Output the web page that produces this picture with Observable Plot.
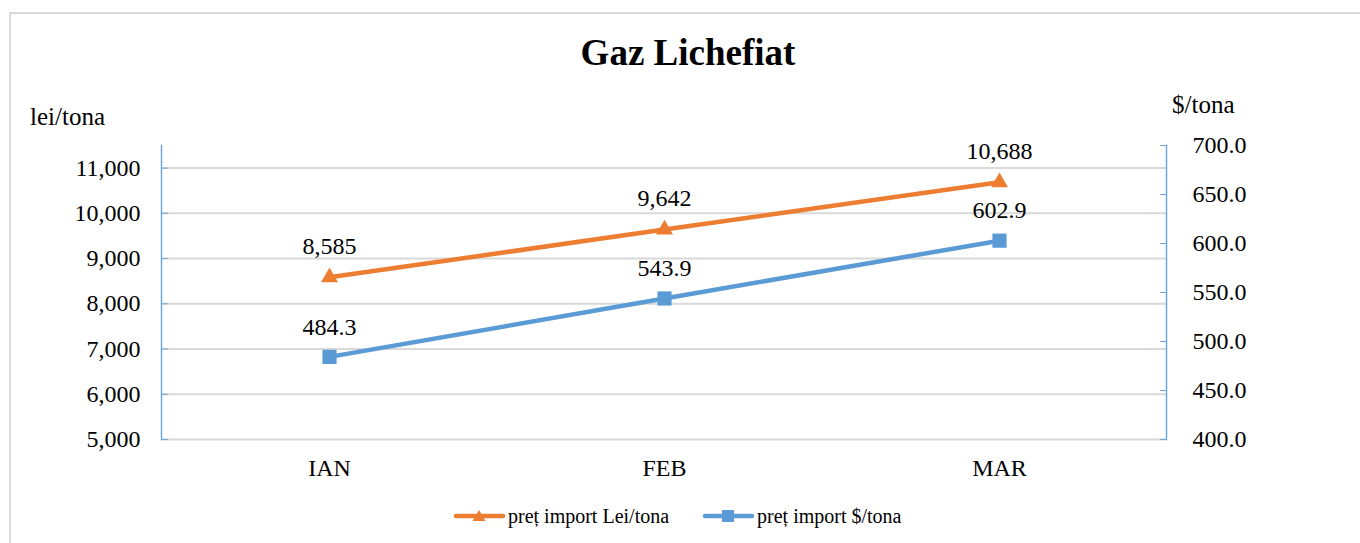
<!DOCTYPE html>
<html><head><meta charset="utf-8">
<script src="https://cdn.jsdelivr.net/npm/d3@7"></script>
<script src="https://cdn.jsdelivr.net/npm/@observablehq/plot@0.6"></script>
<style>
body{margin:0;background:#fff;font-family:"Liberation Serif","Times New Roman",serif;color:#000;}
#wrap{position:relative;width:1360px;height:543px;overflow:hidden;}
#border{position:absolute;left:9px;top:12px;width:1400px;height:600px;border:2px solid #d9d9d9;}
#chart{position:absolute;left:0;top:0;}
#chart svg, #chart svg text{font-family:"Liberation Serif","Times New Roman",serif !important;}
.lbl{position:absolute;line-height:1;white-space:nowrap;}
#title{left:0;width:1376px;top:34px;text-align:center;font-weight:bold;font-size:37px;}
#lleft{left:30px;top:104px;font-size:25px;}
#lright{left:1172px;top:92px;font-size:25px;}
#legend{position:absolute;top:506px;left:453px;font-size:20px;display:flex;align-items:center;line-height:1;}
.item{display:flex;align-items:center;margin-right:33px;}
.item svg{margin-right:2px;}
</style>
</head><body>
<div id="wrap">
  <div id="border"></div>
  <div id="chart"></div>
  <div class="lbl" id="title">Gaz Lichefiat</div>
  <div class="lbl" id="lleft">lei/tona</div>
  <div class="lbl" id="lright">$/tona</div>
  <div id="legend"></div>
</div>
<script>
const months = ["IAN", "FEB", "MAR"];
const leiValues = [8585, 9642, 10688];
const usdValues = [484.3, 543.9, 602.9];
const leiTicks = [5000, 6000, 7000, 8000, 9000, 10000, 11000];
const usdTicks = [400, 450, 500, 550, 600, 650, 700];
const seriesNames = ["preț import Lei/tona", "preț import $/tona"];

const orange = "#ED7D31";
const blue = "#5B9BD5";
const axisBlue = "#6FA8DC";

const leiDomain = [5000, 11500];
const usdDomain = [400, 700];
const usdToLei = d3.scaleLinear(usdDomain, leiDomain);

const leiData = months.map((m, i) => ({month: m, value: leiValues[i]}));
const usdData = months.map((m, i) => ({month: m, value: usdValues[i]}));

const chart = Plot.plot({
  width: 1360,
  height: 543,
  marginTop: 145,
  marginBottom: 104,
  marginLeft: 161,
  marginRight: 194,
  x: {type: "point", domain: months, padding: 0.5},
  y: {domain: leiDomain},
  style: {fontSize: "24px", color: "#000", background: "transparent"},
  marks: [
    Plot.gridY(leiTicks, {stroke: "#d9d9d9", strokeOpacity: 1, strokeWidth: 2}),
    Plot.frame({anchor: "left", stroke: axisBlue, strokeWidth: 1.5}),
    Plot.frame({anchor: "right", stroke: axisBlue, strokeWidth: 1.5}),
    Plot.axisY(leiTicks, {anchor: "left", tickSize: -7, tickPadding: 28, stroke: axisBlue, fill: "#000", tickFormat: d3.format(","), label: null, fontSize: 24}),
    Plot.axisY(usdTicks, {y: usdToLei, anchor: "right", tickSize: -7, tickPadding: 33, stroke: axisBlue, fill: "#000", tickFormat: d => d.toFixed(1), label: null, fontSize: 24}),
    Plot.axisX({tickSize: 0, tickPadding: 19, label: null, fontSize: 24, fill: "#000"}),
    Plot.line(leiData, {x: "month", y: "value", stroke: orange, strokeWidth: 4.5}),
    Plot.line(usdData, {x: "month", y: d => usdToLei(d.value), stroke: blue, strokeWidth: 4.5}),
    Plot.dot(leiData, {x: "month", y: "value", symbol: "triangle", r: 6.3, fill: orange, stroke: null}),
    Plot.dot(usdData, {x: "month", y: d => usdToLei(d.value), symbol: "square", r: 8, fill: blue, stroke: null}),
    Plot.text(leiData, {x: "month", y: "value", text: d => d3.format(",")(d.value), dy: -31, fontSize: 24, fill: "#000"}),
    Plot.text(usdData, {x: "month", y: d => usdToLei(d.value), text: d => d.value.toFixed(1), dy: -30, fontSize: 24, fill: "#000"})
  ]
});
document.getElementById("chart").appendChild(chart);

// legend
const legend = document.getElementById("legend");
const swatches = [[orange, "triangle"], [blue, "square"]];
seriesNames.forEach((name, i) => {
  const [color, sym] = swatches[i];
  const item = document.createElement("div");
  item.className = "item";
  const marker = sym === "triangle"
    ? `<path d="M26,3 L32.5,14 L19.5,14 Z" fill="${color}"/>`
    : `<rect x="20" y="3" width="12" height="12" fill="${color}"/>`;
  item.innerHTML = `<svg width="53" height="18"><line x1="3" y1="9" x2="50" y2="9" stroke="${color}" stroke-width="4.5" stroke-linecap="round"/>${marker}</svg><span>${name}</span>`;
  legend.appendChild(item);
});
</script>
</body></html>
